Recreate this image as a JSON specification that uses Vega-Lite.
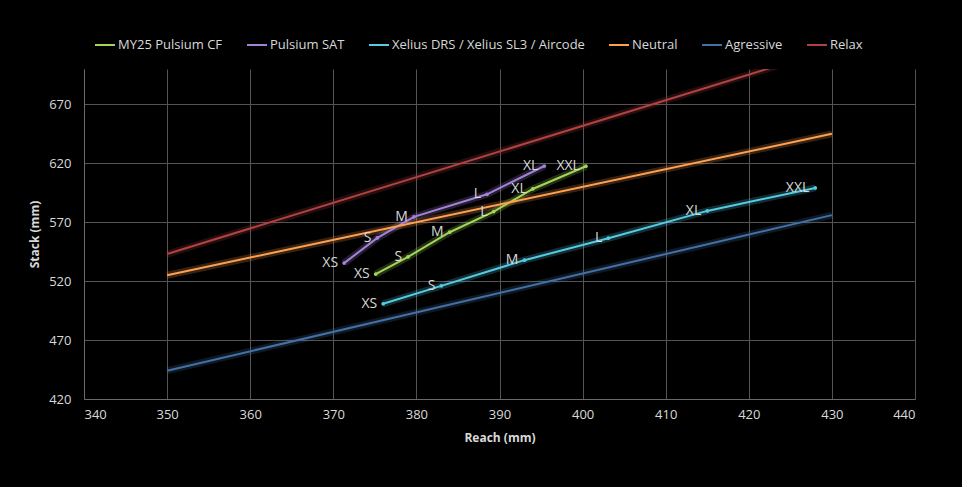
{
  "$schema": "https://vega.github.io/schema/vega-lite/v6.json",
  "width": 831,
  "height": 330,
  "autosize": {"type": "none"},
  "padding": {"left": 84, "top": 69, "right": 47, "bottom": 88},
  "background": "#000000",
  "config": {
    "view": {"stroke": null},
    "font": "Open Sans",
    "axis": {
      "labelColor": "#d9d9d9",
      "labelFontSize": 13,
      "titleColor": "#d9d9d9",
      "titleFontSize": 12,
      "titleFontWeight": "bold",
      "gridColor": "#545454",
      "gridWidth": 1,
      "domainColor": "#6a6a6a",
      "ticks": false
    }
  },
  "data": {
    "values": [
      {"series": "MY25 Pulsium CF", "reach": 375.1, "stack": 526, "size": "XS"},
      {"series": "MY25 Pulsium CF", "reach": 379.0, "stack": 540.6, "size": "S"},
      {"series": "MY25 Pulsium CF", "reach": 384.0, "stack": 561.5, "size": "M"},
      {"series": "MY25 Pulsium CF", "reach": 389.3, "stack": 579, "size": "L"},
      {"series": "MY25 Pulsium CF", "reach": 394.0, "stack": 598.2, "size": "XL"},
      {"series": "MY25 Pulsium CF", "reach": 400.4, "stack": 617.5, "size": "XXL"},
      {"series": "Pulsium SAT", "reach": 371.3, "stack": 535.3, "size": "XS"},
      {"series": "Pulsium SAT", "reach": 375.3, "stack": 556.7, "size": "S"},
      {"series": "Pulsium SAT", "reach": 379.7, "stack": 574.5, "size": "M"},
      {"series": "Pulsium SAT", "reach": 388.5, "stack": 593.7, "size": "L"},
      {"series": "Pulsium SAT", "reach": 395.4, "stack": 617.7, "size": "XL"},
      {"series": "Xelius DRS / Xelius SL3 / Aircode", "reach": 376.0, "stack": 500.8, "size": "XS"},
      {"series": "Xelius DRS / Xelius SL3 / Aircode", "reach": 383.0, "stack": 516, "size": "S"},
      {"series": "Xelius DRS / Xelius SL3 / Aircode", "reach": 393.0, "stack": 537.8, "size": "M"},
      {"series": "Xelius DRS / Xelius SL3 / Aircode", "reach": 403.1, "stack": 556.4, "size": "L"},
      {"series": "Xelius DRS / Xelius SL3 / Aircode", "reach": 415.0, "stack": 579.6, "size": "XL"},
      {"series": "Xelius DRS / Xelius SL3 / Aircode", "reach": 428.0, "stack": 599.1, "size": "XXL"},
      {"series": "Neutral", "reach": 350, "stack": 525, "size": null},
      {"series": "Neutral", "reach": 430, "stack": 645, "size": null},
      {"series": "Agressive", "reach": 350, "stack": 444, "size": null},
      {"series": "Agressive", "reach": 430, "stack": 576, "size": null},
      {"series": "Relax", "reach": 350, "stack": 543, "size": null},
      {"series": "Relax", "reach": 430, "stack": 717, "size": null}
    ]
  },
  "encoding": {
    "x": {
      "field": "reach", "type": "quantitative",
      "scale": {"domain": [340, 440], "nice": false},
      "axis": {"values": [340, 350, 360, 370, 380, 390, 400, 410, 420, 430, 440], "title": "Reach (mm)", "labelPadding": 9, "titlePadding": 11}
    },
    "y": {
      "field": "stack", "type": "quantitative",
      "scale": {"domain": [420, 700], "nice": false, "zero": false},
      "axis": {"values": [420, 470, 520, 570, 620, 670], "title": "Stack (mm)", "labelPadding": 13, "titlePadding": 7}
    },
    "color": {
      "field": "series", "type": "nominal",
      "scale": {
        "domain": ["MY25 Pulsium CF", "Pulsium SAT", "Xelius DRS / Xelius SL3 / Aircode", "Neutral", "Agressive", "Relax"],
        "range": ["#a2d65a", "#a383d8", "#55cbe4", "#ffa050", "#4470a6", "#b04242"]
      },
      "legend": {
        "title": null,
        "orient": "none",
        "direction": "horizontal",
        "legendX": 10,
        "legendY": -35,
        "symbolType": "stroke",
        "symbolSize": 400,
        "symbolStrokeWidth": 2,
        "symbolOpacity": 1,
        "labelColor": "#d9d9d9",
        "labelFontSize": 13,
        "labelLimit": 400,
        "columnPadding": 20,
        "labelOffset": 2
      }
    }
  },
  "layer": [
    {
      "mark": {"type": "line", "strokeWidth": 7, "opacity": 0.22, "clip": true}
    },
    {
      "mark": {"type": "line", "strokeWidth": 2, "clip": true}
    },
    {
      "transform": [{"filter": "datum.size != null"}],
      "mark": {"type": "point", "filled": true, "size": 14, "opacity": 1}
    },
    {
      "transform": [{"filter": "datum.size != null"}],
      "mark": {"type": "text", "align": "right", "baseline": "middle", "dx": -6, "fontSize": 14, "color": "#d9d9d9"},
      "encoding": {"text": {"field": "size"}, "color": {"value": "#d9d9d9"}}
    }
  ]
}
